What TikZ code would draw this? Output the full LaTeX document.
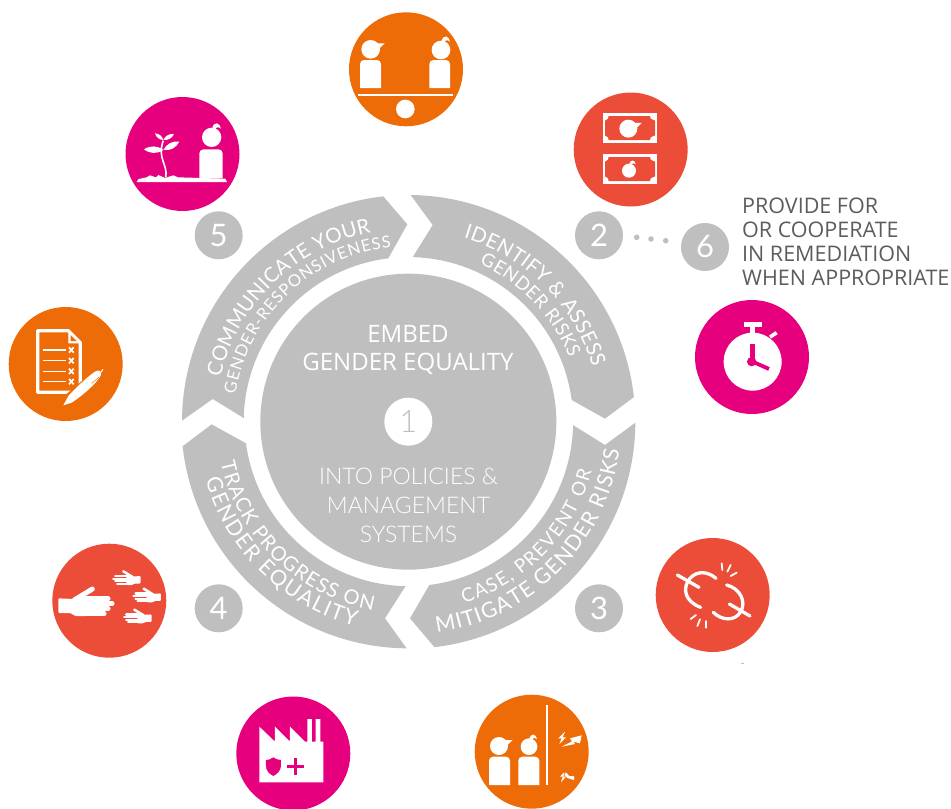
\documentclass[tikz,border=0pt]{standalone}
\usepackage{fontspec}
\setmainfont{Open Sans}
\newfontfamily\ringf{Lato Light}
\newfontfamily\bandf{Lato}
\usetikzlibrary{decorations.text}
\definecolor{ringgrey}{HTML}{BFBFBF}
\definecolor{iconorange}{HTML}{EE6C08}
\definecolor{iconred}{HTML}{EB4D38}
\definecolor{iconpink}{HTML}{E6007E}
\definecolor{sidetext}{HTML}{5E5C5A}
\tikzset{
  zm/.style 2 args={shift={(#1,#2)},x=.33333pt,y=-.33333pt},
  segment/.style={fill=ringgrey},
  iconc/.style={circle,minimum size=114pt,inner sep=0pt,fill=#1},
  numc/.style={circle,minimum size=48pt,inner sep=0pt,fill=ringgrey,text=white,font=\bandf\fontsize{31}{31}\selectfont},
  dotc/.style={circle,minimum size=5.6pt,inner sep=0pt,fill=ringgrey},
  stroke/.style={draw=white,line cap=round,line width=#1,fill=none},
}
\newcommand\manhead[3]{\begin{scope}[shift={(#1,#2)},scale=#3]
  \fill[white] (0,0) circle[radius=1];
  \fill[white] (.5,-.64) -- (1.5,-.64) -- (.93,-.1) -- cycle;
\end{scope}}
\newcommand\womanhead[3]{\begin{scope}[shift={(#1,#2)},scale=#3]
  \fill[white] (0,0) circle[radius=1];
  \fill[white] (.05,-.85) .. controls (.1,-1.3) and (.35,-1.5) .. (.55,-1.45) .. controls (.8,-1.4) and (.9,-1.15) .. (.95,-.9) .. controls (.8,-1.05) and (.6,-1.1) .. (.5,-1) .. controls (.45,-.85) and (.3,-.75) .. (.05,-.85) -- cycle;
\end{scope}}
\newcommand\bodyshape[4]{\fill[white] (#1,#4) [rounded corners=4pt] -- (#1,#3) -- (#2,#3) [sharp corners] -- (#2,#4) -- cycle;}
\newcommand\billshape[1]{% top y
  \fill[white] (788,#1) rectangle (950,#1+88);
  \fill[iconred] (806,#1+8) -- (930,#1+8) -- (932,#1+16) -- (945,#1+22) -- (945,#1+66) -- (932,#1+72) -- (930,#1+80) -- (806,#1+80) -- (804,#1+72) -- (795,#1+66) -- (795,#1+22) -- (804,#1+16) -- cycle;}
\newcommand\handshape[4]{\begin{scope}[shift={(#1,#2)},xscale=#3,yscale=#4]
  \fill[white,rounded corners=1pt] (0,-23) -- (45,-21) -- (84,-28) -- (84,30) -- (51,30) -- (36,21) -- (0,21) -- cycle;
  \draw[stroke={5*abs(#4)*1pt}] (48,-18) -- (102,-51);
  \draw[stroke={4.4*abs(#4)*1pt}] (75,-22) -- (150,-22);
  \draw[stroke={4.4*abs(#4)*1pt}] (75,-7) -- (162,-7);
  \draw[stroke={4.4*abs(#4)*1pt}] (75,8) -- (150,8);
  \draw[stroke={4.4*abs(#4)*1pt}] (75,23) -- (138,23);
\end{scope}}
\newcommand\leafshape[3]{\fill[white] (#1) to[bend left=#3] (#2) to[bend left=#3] (#1);}
\newcommand\arctext[5]{%
  \path[decorate,decoration={text along path,text align=fit to path,
    text={|\bandf\fontsize{#4}{#4}\selectfont\color{white}|#5}}]
    ({408.33+#3*cos(#1)},{421.67-#3*sin(#1)})
    arc[start angle=#1,end angle=#2,radius=#3pt];}
\begin{document}
\begin{tikzpicture}[x=1pt,y=-1pt]
\useasboundingbox (0,0) rectangle (951,809);

% ring
\begin{scope}[zm={170}{180}]
\fill[segment] (722,45) arc[start angle=89.4,end angle=6.3,radius=227pt] -- (1305,716) -- (1205,660) arc[start angle=7.6,end angle=88.5,radius=164.7pt] -- (788,135) -- cycle;
\fill[segment] (1396,728) arc[start angle=-.25,end angle=-83.4,radius=227pt] -- (720,1315) -- (778,1215) arc[start angle=-82.7,end angle=-1.2,radius=164.7pt] -- (1305,795) -- cycle;
\fill[segment] (710,1405) arc[start angle=269.6,end angle=186.3,radius=227pt] -- (125,733) -- (228,790) arc[start angle=187.6,end angle=268.7,radius=164.7pt] -- (645,1315) -- cycle;
\fill[segment] (36,722) arc[start angle=179.7,end angle=96.5,radius=227pt] -- (712,133) -- (655,235) arc[start angle=97,end angle=178.7,radius=164.7pt] -- (128,657) -- cycle;
\end{scope}
\node[circle,minimum size=296pt,inner sep=0pt,fill=ringgrey] (core) at (408.33,421.67) {};

% ring texts
\arctext{73.3}{16.4}{192}{20.5}{IDENTIFY {\&} ASSESS}
\arctext{65.8}{21.6}{173}{18.5}{GENDER RISKS}
\arctext{166.7}{101.1}{193}{20.5}{COMMUNICATE YOUR}
\arctext{171}{95.6}{175}{16.5}{GENDER-RESPONSIVENESS}
\arctext{192.4}{259.4}{192}{20}{TRACK PROGRESS ON}
\arctext{196}{255.4}{211}{21.5}{GENDER EQUALITY}
\arctext{-73}{-15.2}{190}{19}{CASE, PREVENT OR}
\arctext{-82.3}{-7.7}{213}{21.5}{MITIGATE GENDER RISKS}

% core texts
\node[text=white,font=\fontsize{24}{28}\selectfont,align=center,inner sep=0pt,anchor=base] (embed) at (408,370.7) {EMBED\\[0pt]GENDER EQUALITY};
\node[circle,minimum size=48pt,inner sep=0pt,fill=white,text=ringgrey,font=\ringf\fontsize{31}{31}\selectfont] (one) at (408.33,421.67) {1};
\node[text=white,font=\ringf\fontsize{23}{28.7}\selectfont,align=center,inner sep=0pt,anchor=north] (into) at (408.5,468) {INTO POLICIES {\&}\\MANAGEMENT\\SYSTEMS};

% numbered circles
\node[numc] (n5) at (218.7,235.3) {5};
\node[numc] (n2) at (599,235.3) {2};
\node[numc] (n4) at (218.7,608.3) {4};
\node[numc] (n3) at (599,608.3) {3};
\node[numc] (n6) at (705,247) {6};
\node[dotc] (d1) at (636.7,237.3) {};
\node[dotc] (d2) at (651,239) {};
\node[dotc] (d3) at (665.7,240.7) {};

% side text
\node[text=sidetext,font=\fontsize{21.5}{24}\selectfont,align=left,inner sep=0pt,anchor=north west] (remedy) at (742,197.5) {PROVIDE FOR\\OR COOPERATE\\IN REMEDIATION\\WHEN APPROPRIATE};

% icon discs
\node[iconc=iconorange] (top) at (406,69.3) {};
\node[iconc=iconred] (money) at (630.7,149.5) {};
\node[iconc=iconpink] (plant) at (182.5,154) {};
\node[iconc=iconorange] (list) at (65.7,364) {};
\node[iconc=iconred] (hands) at (109.3,600.7) {};
\node[iconc=iconpink] (factory) at (293.3,753.5) {};
\node[iconc=iconorange] (wall) at (531.7,751.7) {};
\node[iconc=iconred] (chain) at (712.7,595) {};
\node[iconc=iconpink] (clock) at (752,357) {};

% balance icon
\begin{scope}[zm={340}{0}]
\manhead{92}{148}{28}
\bodyshape{60}{123}{180}{264}
\womanhead{303}{150}{28}
\bodyshape{268}{330}{180}{264}
\fill[white] (53,282) rectangle (340,288);
\fill[white] (196,327) circle[radius=28];
% money icon
\billshape{340}
\manhead{865}{386}{27}
\billshape{463}
\womanhead{867}{512}{21}
\end{scope}

% seedling and person
\begin{scope}[zm={0}{90}]
\fill[white] (410,276) -- (416,267) -- (440,262) -- (450,256) -- (468,262) -- (475,255) -- (495,264) -- (520,256) -- (534,262) -- (676,266) -- (681,276) -- cycle;
\draw[white,line width=1.6pt,fill=none] (497,262) .. controls (505,225) and (470,205) .. (490,152);
\leafshape{432,178}{490,180}{35}
\leafshape{490,180}{538,155}{35}
\leafshape{465,130}{490,150}{35}
\leafshape{490,150}{522,132}{35}
\womanhead{635}{142}{29}
\bodyshape{598}{668}{178}{265}
% checklist
\begin{scope}
\draw[white,line width=3.2pt,line join=round,fill=none] (113,722) -- (205,722) -- (241,758) -- (241,907) -- (113,907) -- cycle;
\fill[white] (205,722) -- (205,760) -- (241,760) -- cycle;
\fill[iconorange] (212,735) -- (212,753) -- (230,753) -- cycle;
\foreach \yy in {780,812,844,875}{
  \draw[white,line width=1.4pt] (128,\yy) -- (198,\yy);
  \draw[white,line width=1.7pt] (207,\yy-8) -- (221,\yy+8) (221,\yy-8) -- (207,\yy+8);
}
\draw[iconorange,line width=11pt] (210,925) -- (292,855);
\fill[white] (190,946) -- (205,918) .. controls (240,880) and (270,855) .. (285,845) .. controls (297,838) and (305,842) .. (303,855) .. controls (290,880) and (250,915) .. (215,938) -- cycle;
\draw[white,line width=1pt] (300,850) -- (309,838);
\draw[iconorange,line width=.5pt] (275,880) -- (297,862);
\end{scope}
\end{scope}

% hands and factory
\begin{scope}[zm={0}{530}]
\handshape{175}{228}{1}{1}
\handshape{422}{150}{-.51}{.51}
\handshape{483}{202}{-.51}{.51}
\handshape{455}{265}{-.51}{.51}
\fill[white] (778,757) -- (778,590) -- (825,635) -- (825,590) -- (870,635) -- (870,590) -- (915,635) -- (922,635) -- (922,567) -- (936,567) -- (936,635) -- (947,635) -- (947,567) -- (961,567) -- (961,635) -- (970,635) -- (970,757) -- cycle;
\fill[iconpink] (820,682) .. controls (830,688) and (836,690) .. (843,690) -- (843,708) .. controls (842,722) and (832,732) .. (820,738) .. controls (808,732) and (798,722) .. (798,708) -- (798,690) .. controls (805,690) and (812,688) .. (820,682) -- cycle;
\fill[iconpink] (862,706) rectangle (912,714);
\fill[iconpink] (883,685) rectangle (891,735);
\end{scope}

% wall, chain
\begin{scope}[zm={460}{530}]
\manhead{117}{648}{27}
\bodyshape{87}{150}{680}{765}
\womanhead{207}{650}{25}
\bodyshape{175}{238}{680}{765}
\fill[white] (259,525) rectangle (265,765);
\fill[white] (315,605) -- (295,625) -- (305,625) -- (298,642) -- (318,622) -- (308,622) -- cycle;
\fill[white] (365,616) -- (330,625) -- (336,634) -- (305,650) -- (345,642) -- (340,635) -- (360,640) -- cycle;
\fill[white] (313,727) -- (300,740) -- (308,740) -- (303,757) -- (318,740) -- (310,740) -- cycle;
\fill[white] (318,727) -- (328,738) -- (343,739) -- (342,750) -- (322,744) -- (313,735) -- cycle;
\draw[stroke=3.3pt] (652,135) -- (717,172);
\draw[stroke=3.3pt] (768,145) .. controls (745,125) and (712,120) .. (690,145) .. controls (665,175) and (675,215) .. (722,232);
\draw[stroke=3.3pt] (808,222) -- (870,258);
\draw[stroke=3.3pt] (760,247) .. controls (785,272) and (825,275) .. (842,245) .. controls (860,215) and (840,175) .. (800,165);
\draw[stroke=1.8pt] (785,100) -- (787,120) (812,105) -- (802,125) (830,128) -- (812,138);
\draw[stroke=1.8pt] (708,255) -- (692,267) (720,268) -- (712,288) (738,273) -- (738,293);
\draw[ringgrey,line width=.6pt] (843,400) -- (852,400);
\end{scope}

% stopwatch
\begin{scope}[zm={570}{190}]
\fill[white] (548,515) circle[radius=87];
\fill[white] (522,395) rectangle (575,410);
\fill[white] (541,410) rectangle (555,435);
\draw[white,line width=3.6pt] (600,441) -- (620,428);
\draw[iconpink,line width=5.4pt] (548,462) -- (548,515);
\draw[iconpink,line width=3.8pt] (548,515) -- (597,537);
\fill[iconpink] (545,515) circle[radius=14];
\end{scope}
\end{tikzpicture}
\end{document}
